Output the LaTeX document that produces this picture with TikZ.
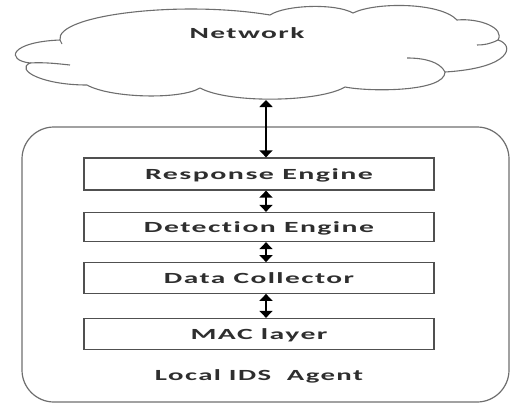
\documentclass[tikz,border=0pt]{standalone}
\usepackage{fontspec}
\setmainfont[Ligatures=NoCommon,LetterSpace=5]{Carlito}
\usetikzlibrary{arrows.meta,calc}
\definecolor{txt}{HTML}{2E2E2E}
\definecolor{linegray}{HTML}{6E6E6E}
\definecolor{boxgray}{HTML}{505050}
\newcommand{\fitw}[2]{\resizebox{#1}{\height}{\bfseries #2}}
\begin{document}
\begin{tikzpicture}[x=1pt,y=-1pt,
  layerbox/.style={draw=boxgray,line width=1.3pt,minimum width=350pt,inner sep=0pt,
    text height=10pt,text depth=0pt,font=\fontsize{15.5}{18}\selectfont,text=txt},
  lbl/.style={inner sep=0pt,text height=10pt,text depth=0pt,font=\fontsize{15.5}{18}\selectfont,text=txt},
  biarrow/.style={line width=1.8pt,{Triangle[width=13pt,length=7pt]}-{Triangle[width=13pt,length=7pt]}}]
\useasboundingbox (0,0) rectangle (510,404);
% outer agent box
\node[draw=linegray,line width=1.2pt,rounded corners=32pt,minimum width=487pt,minimum height=275pt,inner sep=0pt] (agent) at (265.5,264.5) {};
% cloud
\draw[linegray,line width=1.1pt]
  (60,40) .. controls (55,15) and (180,0) .. (270,15)
  .. controls (285,5) and (335,3) .. (353,13)
  .. controls (375,2) and (440,2) .. (457,20)
  .. controls (480,18) and (505,28) .. (498,40)
  .. controls (515,45) and (512,68) .. (445,72)
  .. controls (445,92) and (370,92) .. (345,87)
  .. controls (320,102) and (230,104) .. (200,88)
  .. controls (180,100) and (110,98) .. (87,85)
  .. controls (42,85) and (15,70) .. (30,63)
  .. controls (5,60) and (10,42) .. (60,40) -- cycle;
\draw[linegray,line width=1.1pt] (30,63) .. controls (45,62) and (60,64) .. (70,65);
\draw[linegray,line width=1.1pt] (498,40) .. controls (490,44) and (484,45) .. (477,45);
\draw[linegray,line width=1.1pt] (445,72) .. controls (440,62) and (425,58) .. (407,58);
\draw[linegray,line width=1.1pt] (60,40) -- (62,44);
\coordinate (netb) at (266,100);
\node[lbl] (net) at (247,34) {\fitw{115pt}{Network}};
% layers
\node[layerbox,minimum height=32pt] (re) at (259,174) {\fitw{228pt}{Response Engine}};
\node[layerbox,minimum height=29pt] (de) at (259,227) {\fitw{230pt}{Detection Engine}};
\node[layerbox,minimum height=30.5pt] (dc) at (259,278) {\fitw{190pt}{Data Collector}};
\node[layerbox,minimum height=31pt] (mac) at (259,334) {\fitw{137pt}{MAC layer}};
\node[lbl] (lia) at (259,375) {\fitw{208pt}{Local IDS\ \ Agent}};
% arrows
\coordinate (ax) at (266,0);
\draw[biarrow] (netb) -- (ax |- re.north);
\draw[biarrow] (ax |- re.south) -- (ax |- de.north);
\draw[biarrow] (ax |- de.south) -- (ax |- dc.north);
\draw[biarrow] (ax |- dc.south) -- (ax |- mac.north);
\end{tikzpicture}
\end{document}
